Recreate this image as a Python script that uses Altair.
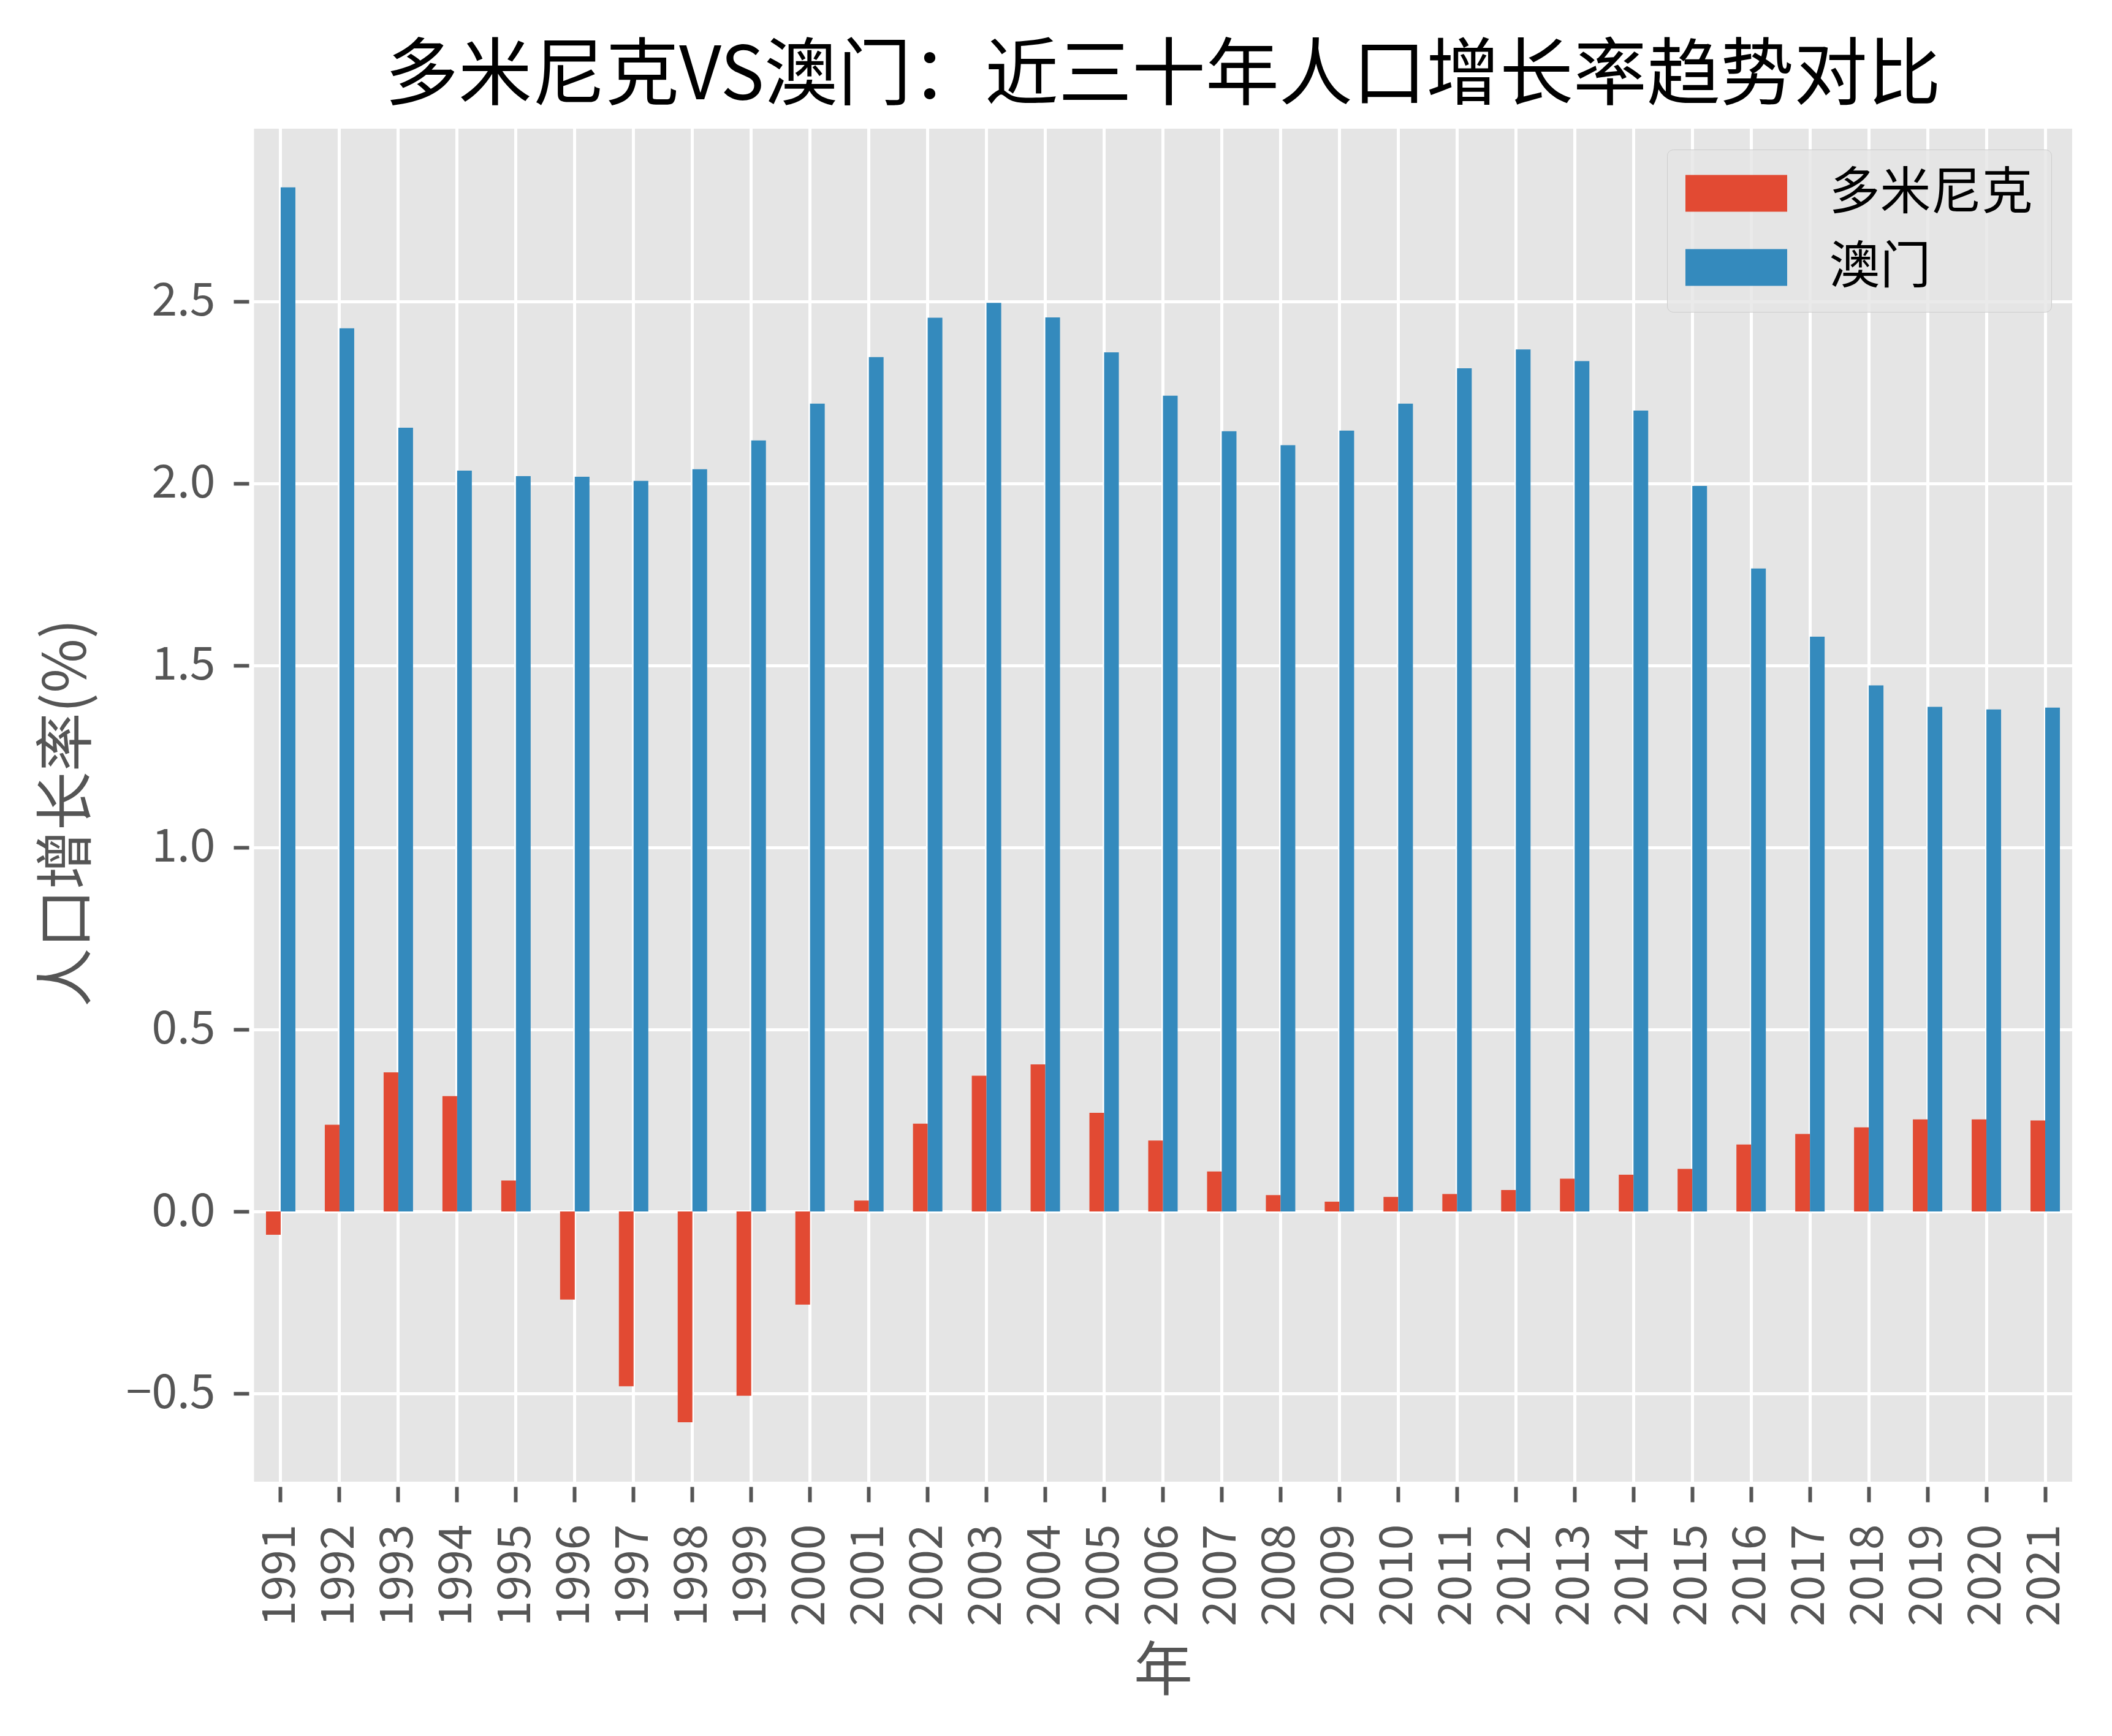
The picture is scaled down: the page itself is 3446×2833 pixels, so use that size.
import altair as alt
import pandas as pd

years = [str(y) for y in range(1991, 2022)]
series = ["多米尼克", "澳门"]
dominica = [-0.064, 0.238, 0.382, 0.317, 0.085, -0.242, -0.480, -0.579, -0.506, -0.256,
            0.030, 0.241, 0.373, 0.404, 0.271, 0.195, 0.110, 0.045, 0.027, 0.040,
            0.048, 0.059, 0.090, 0.101, 0.117, 0.184, 0.213, 0.231, 0.253, 0.253, 0.250]
macau = [2.813, 2.426, 2.153, 2.035, 2.020, 2.018, 2.007, 2.039, 2.118, 2.219,
         2.347, 2.455, 2.496, 2.456, 2.360, 2.241, 2.143, 2.105, 2.145, 2.219,
         2.316, 2.368, 2.336, 2.200, 1.993, 1.766, 1.579, 1.445, 1.386, 1.379, 1.384]
y_ticks = [-0.5, 0.0, 0.5, 1.0, 1.5, 2.0, 2.5]
colors = ["#E24A33", "#348ABD"]

df = pd.DataFrame({
    "年": years * 2,
    "国家": [series[0]] * len(years) + [series[1]] * len(years),
    "增长率": dominica + macau,
})

FONT = "Noto Sans CJK SC"

chart = alt.Chart(df).mark_bar().encode(
    x=alt.X(
        "年:N", sort=years,
        scale=alt.Scale(paddingInner=0.5, paddingOuter=0.25),
        axis=alt.Axis(
            title="年", labelAngle=-90, bandPosition=0.5,
            labelPadding=36, titleY=306, titleBaseline="middle",
        ),
    ),
    xOffset=alt.XOffset("国家:N", sort=series,
                        scale=alt.Scale(domain=series, paddingInner=0, paddingOuter=0)),
    y=alt.Y(
        "增长率:Q", stack=None,
        scale=alt.Scale(domain=[-0.749, 2.981], nice=False, zero=False),
        axis=alt.Axis(
            title="人口增长率(%)", values=y_ticks, format=".1f",
            labelPadding=30, titleX=-300, titleY=1120, titleBaseline="middle",
        ),
    ),
    color=alt.Color(
        "国家:N", sort=series,
        scale=alt.Scale(domain=series, range=colors),
        legend=alt.Legend(
            title=None, orient="top-right", offset=38, padding=30,
            fillColor="rgba(229,229,229,0.8)", strokeColor="#cccccc", cornerRadius=10,
            symbolType="M-2,-0.72L2,-0.72L2,0.72L-2,0.72Z", symbolSize=6889,
            symbolOffset=41.5, symbolStrokeWidth=0, symbolOpacity=1,
            labelFontSize=83, labelColor="black", labelFont=FONT,
            labelOffset=110, rowPadding=37, labelLimit=800,
        ),
    ),
).properties(
    width=2975, height=2216,
    title=alt.Title(
        "多米尼克VS澳门：近三十年人口增长率趋势对比",
        fontSize=120, font=FONT, fontWeight="normal", color="black",
        anchor="middle", offset=19,
    ),
    padding={"left": 402, "top": 198, "right": 50, "bottom": 395},
    autosize=alt.AutoSizeParams(type="none"),
).configure(
    font=FONT,
).configure_view(
    fill="#E5E5E5", stroke="white", strokeWidth=8,
).configure_axis(
    labelFont=FONT, titleFont=FONT,
    labelFontSize=75, labelColor="#555555",
    titleFontSize=96, titleColor="#555555", titleFontWeight="normal",
    tickColor="#555555", tickSize=29, tickWidth=6,
    domain=True, domainColor="white", domainWidth=8,
    grid=True, gridColor="white", gridWidth=5, gridOpacity=1,
)

chart.save("out.html", embed_options={"renderer": "svg", "actions": False})
